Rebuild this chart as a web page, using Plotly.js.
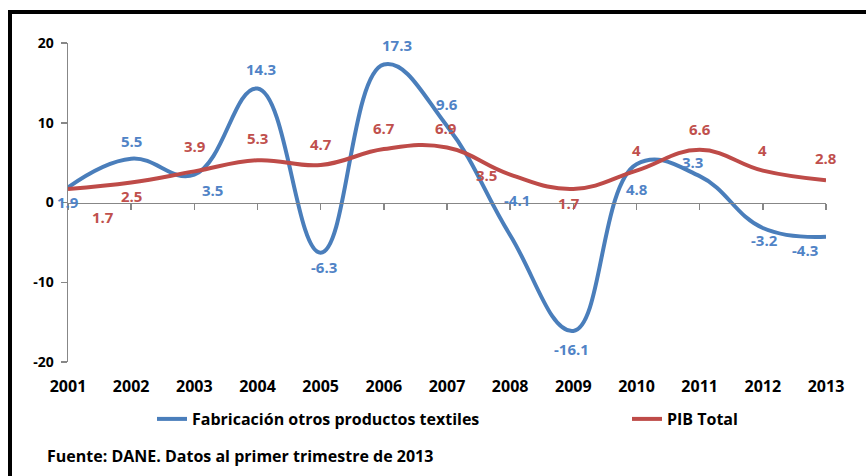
<!DOCTYPE html>
<html>
<head>
<meta charset="utf-8">
<script src="https://cdn.plot.ly/plotly-3.0.1.min.js"></script>
<style>
  html, body { margin: 0; padding: 0; background: #fff; }
  #wrap { position: relative; width: 866px; height: 476px; }
  #chart { width: 866px; height: 476px; }
  #frame { position: absolute; left: 8px; top: 10px; width: 862px; height: 470px;
           border-left: 4px solid #000; border-top: 4px solid #000; pointer-events: none; }
</style>
</head>
<body>
<div id="wrap">
  <div id="chart"></div>
  <div id="frame"></div>
</div>
<script>
// ---- data ----
const years = [2001, 2002, 2003, 2004, 2005, 2006, 2007, 2008, 2009, 2010, 2011, 2012, 2013];
const yearLabels = ["2001","2002","2003","2004","2005","2006","2007","2008","2009","2010","2011","2012","2013"];
const textiles = [1.9, 5.5, 3.5, 14.3, -6.3, 17.3, 9.6, -4.1, -16.1, 4.8, 3.3, -3.2, -4.3];
const pib = [1.7, 2.5, 3.9, 5.3, 4.7, 6.7, 6.9, 3.5, 1.7, 4, 6.6, 4, 2.8];
const yTickVals = [-20, -10, 0, 10, 20];
const yTickText = ["-20", "-10", "0", "10", "20"];
const seriesNames = ["Fabricación otros productos textiles", "PIB Total"];
const sourceText = "Fuente: DANE. Datos al primer trimestre de 2013";

// ---- styles ----
const blueLine = "#4A7EBB", blueText = "#5083C6";
const redLine = "#BE4B48", redText = "#C0504D";
const FONT = "'Open Sans', Lato, 'Liberation Sans', sans-serif";
// label offsets (px) [dx, dyUp]
const blueOff = [[0,-15],[0,18],[18,-15],[3,19],[3,-14],[13,20],[0,22],[7,35],[-2,-18],[0,-25],[-7,14],[2,-12],[-21,-13]];
const redOff = [[35,-28],[0,-13],[1,25],[0,22],[0,21],[0,21],[-1,19],[-24,0],[-4,-14],[0,21],[0,21],[0,21],[0,22]];

const traces = [
  { x: years, y: textiles, name: seriesNames[0], mode: "lines", type: "scatter", legend: "legend",
    line: { color: blueLine, width: 4, shape: "spline", smoothing: 1.2 }, cliponaxis: false, hoverinfo: "skip" },
  { x: years, y: pib, name: seriesNames[1], mode: "lines", type: "scatter", legend: "legend2",
    line: { color: redLine, width: 4, shape: "spline", smoothing: 1.2 }, cliponaxis: false, hoverinfo: "skip" },
  { x: years, y: pib, xaxis: "x2", mode: "lines", type: "scatter", showlegend: false,
    line: { width: 0, color: "rgba(0,0,0,0)" }, hoverinfo: "skip" }
];

const annotations = [];
textiles.forEach((v, i) => annotations.push({
  x: years[i], y: v, text: String(v), showarrow: false,
  xshift: blueOff[i][0], yshift: blueOff[i][1],
  font: { family: FONT, size: 15, color: blueText, weight: "bold" }
}));
pib.forEach((v, i) => annotations.push({
  x: years[i], y: v, text: String(v), showarrow: false,
  xshift: redOff[i][0], yshift: redOff[i][1],
  font: { family: FONT, size: 15, color: redText, weight: "bold" }
}));
annotations.push({
  xref: "paper", yref: "paper", x: (45 - 68) / 758, y: (362 - 456) / 319,
  xanchor: "left", yanchor: "middle", showarrow: false, text: sourceText,
  font: { family: FONT, size: 16, color: "#000", weight: "bold" }
});

const legendFont = { family: FONT, size: 16, color: "#000", weight: "bold" };
const layout = {
  width: 866, height: 476,
  margin: { l: 68, r: 40, t: 43, b: 114 },
  paper_bgcolor: "#fff", plot_bgcolor: "#fff",
  font: { family: FONT, color: "#000" },
  showlegend: true,
  legend: {
    orientation: "h", x: (152 - 68) / 758, y: (362 - 419) / 319,
    xanchor: "left", yanchor: "middle", font: legendFont, bgcolor: "rgba(0,0,0,0)"
  },
  legend2: {
    orientation: "h", x: (627 - 68) / 758, y: (362 - 419) / 319,
    xanchor: "left", yanchor: "middle", font: legendFont, bgcolor: "rgba(0,0,0,0)"
  },
  xaxis: {
    range: [2001, 2013], tickvals: years, ticktext: yearLabels,
    showline: false, showgrid: false, zeroline: false,
    ticks: "outside", ticklen: 10, tickcolor: "rgba(0,0,0,0)",
    tickfont: { family: FONT, size: 16, color: "#000", weight: "bold" }
  },
  xaxis2: {
    overlaying: "x", anchor: "free", position: 0.5, matches: "x",
    range: [2001, 2013], tickvals: years,
    showline: true, linecolor: "#878787", linewidth: 1.5,
    ticks: "outside", ticklen: 6, tickcolor: "#878787", tickwidth: 1.5,
    showticklabels: false, showgrid: false, zeroline: false
  },
  yaxis: {
    range: [-20, 20], tickvals: yTickVals, ticktext: yTickText,
    showline: true, linecolor: "#878787", linewidth: 1.5,
    ticks: "outside", ticklen: 6, tickcolor: "#878787", tickwidth: 1.5,
    ticklabelstandoff: 4,
    showgrid: false, zeroline: false,
    tickfont: { family: FONT, size: 14, color: "#000", weight: "bold" }
  },
  annotations: annotations
};

Plotly.newPlot("chart", traces, layout, { displayModeBar: false, staticPlot: true });
</script>
</body>
</html>
